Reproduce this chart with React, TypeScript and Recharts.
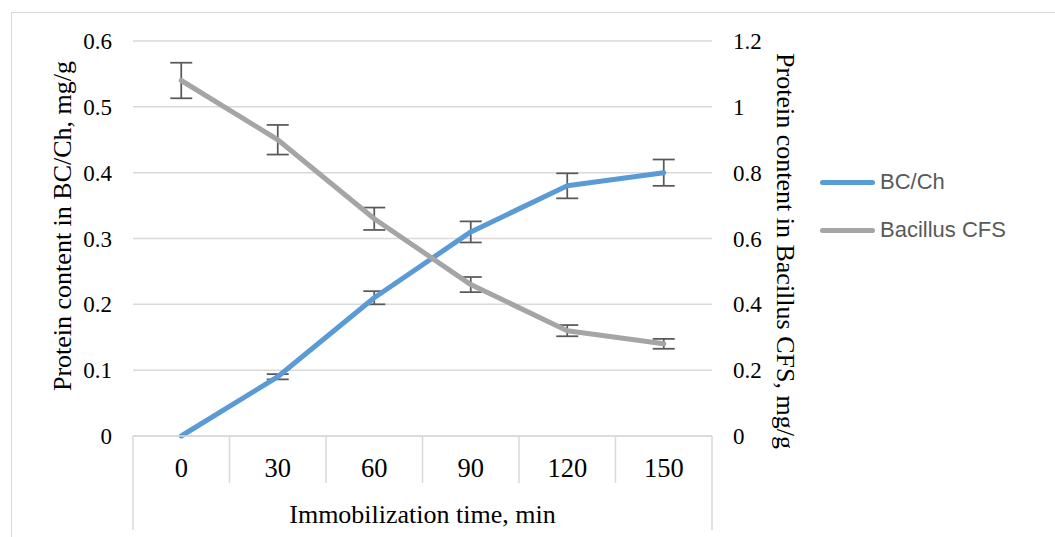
import { LineChart, Line, XAxis, YAxis, CartesianGrid, ErrorBar } from 'recharts';

// values
const times = ['0', '30', '60', '90', '120', '150'];
const bcCh = [0, 0.09, 0.21, 0.31, 0.38, 0.4];
const bcChErr = [0, 0.004, 0.01, 0.016, 0.019, 0.02];
const bacillus = [1.08, 0.9, 0.66, 0.46, 0.32, 0.28];
const bacillusErr = [0.054, 0.045, 0.034, 0.023, 0.017, 0.015];
const leftTicks = [0, 0.1, 0.2, 0.3, 0.4, 0.5, 0.6];
const rightTicks = [0, 0.2, 0.4, 0.6, 0.8, 1, 1.2];

const data = times.map((t, i) => ({
    t,
    bc: bcCh[i],
    bcErr: bcChErr[i],
    bac: bacillus[i],
    bacErr: bacillusErr[i],
}));

const W = 1055;
const H = 537;
const LEFT_W = 133;
const RIGHT_W = 60;
const MARGIN = { top: 41, right: 283, bottom: 0, left: 0 };
const X_H = 101;
const PLOT_W = W - MARGIN.left - MARGIN.right - LEFT_W - RIGHT_W;
const BAND = PLOT_W / times.length;

const SERIF = '"Liberation Serif", "Times New Roman", serif';
const GRID = '#D9D9D9';
const BLUE = '#5B9BD5';
const GREY = '#A5A5A5';

const CategoryTick = (props: any) => {
    const { x, y, payload, index } = props;
    const last = index === times.length - 1;
    return (
        <g>
            <text x={x} y={y + 41} textAnchor="middle" fontFamily={SERIF} fontSize={26.5} fill="#000">
                {payload.value}
            </text>
            {/* category separators like Excel */}
            <line x1={x - BAND / 2} x2={x - BAND / 2} y1={y} y2={index === 0 ? y + 94 : y + 47} stroke={GRID} strokeWidth={1.5} />
            {last && <line x1={x + BAND / 2} x2={x + BAND / 2} y1={y} y2={y + 94} stroke={GRID} strokeWidth={1.5} />}
        </g>
    );
};

const tickStyle = { fontFamily: SERIF, fontSize: 23, fill: '#000' };

export default function App() {
    return (
        <div style={{ position: 'absolute', left: 0, top: 0, width: W, height: H, overflow: 'hidden', background: '#fff' }}>
            {/* outer chart border */}
            <div style={{ position: 'absolute', left: 11, top: 12, width: W + 50, height: H + 50, border: `1.5px solid ${GRID}` }} />

            <div style={{ position: 'absolute', left: 0, top: 0 }}>
                <LineChart width={W} height={H} data={data} margin={MARGIN}>
                    <CartesianGrid vertical={false} stroke={GRID} strokeWidth={1.5} yAxisId="left" />
                    <XAxis
                        dataKey="t"
                        scale="band"
                        interval={0}
                        height={X_H}
                        tickLine={false}
                        tickSize={0}
                        tickMargin={0}
                        axisLine={{ stroke: GRID, strokeWidth: 1.5 }}
                        tick={<CategoryTick />}
                        label={{
                            content: () => (
                                <text x={MARGIN.left + LEFT_W + PLOT_W / 2} y={523} textAnchor="middle" fontFamily={SERIF} fontSize={26} fill="#000">
                                    Immobilization time, min
                                </text>
                            ),
                        }}
                    />
                    <YAxis
                        yAxisId="left"
                        width={LEFT_W}
                        domain={[0, 0.6]}
                        ticks={leftTicks}
                        axisLine={false}
                        tickLine={false}
                        tickSize={0}
                        tickMargin={21}
                        tick={tickStyle}
                        label={{
                            content: () => (
                                <text x={62} y={226} transform="rotate(-90 62 226)" textAnchor="middle" dominantBaseline="central" fontFamily={SERIF} fontSize={26} fill="#000">
                                    Protein content in BC/Ch, mg/g
                                </text>
                            ),
                        }}
                    />
                    <YAxis
                        yAxisId="right"
                        orientation="right"
                        width={RIGHT_W}
                        domain={[0, 1.2]}
                        ticks={rightTicks}
                        axisLine={false}
                        tickLine={false}
                        tickSize={0}
                        tickMargin={21}
                        tick={{ ...tickStyle, textAnchor: 'start' }}
                        label={{
                            content: () => (
                                <text x={785} y={251} transform="rotate(90 785 251)" textAnchor="middle" dominantBaseline="central" fontFamily={SERIF} fontSize={26} fill="#000">
                                    Protein content in Bacillus CFS, mg/g
                                </text>
                            ),
                        }}
                    />
                    <Line
                        yAxisId="left"
                        dataKey="bc"
                        name="BC/Ch"
                        type="linear"
                        stroke={BLUE}
                        strokeWidth={5}
                        strokeLinecap="round"
                        strokeLinejoin="round"
                        dot={false}
                        activeDot={false}
                        isAnimationActive={false}
                    >
                        <ErrorBar dataKey="bcErr" direction="y" width={11} stroke="#595959" strokeWidth={1.75} isAnimationActive={false} />
                    </Line>
                    <Line
                        yAxisId="right"
                        dataKey="bac"
                        name="Bacillus CFS"
                        type="linear"
                        stroke={GREY}
                        strokeWidth={5}
                        strokeLinecap="round"
                        strokeLinejoin="round"
                        dot={false}
                        activeDot={false}
                        isAnimationActive={false}
                    >
                        <ErrorBar dataKey="bacErr" direction="y" width={11} stroke="#595959" strokeWidth={1.75} isAnimationActive={false} />
                    </Line>
                </LineChart>
            </div>

            {/* legend */}
            <div style={{ position: 'absolute', left: 820, top: 166, fontFamily: '"Liberation Sans", Arial, sans-serif', fontSize: 22, color: '#595959' }}>
                {[
                    { name: 'BC/Ch', color: BLUE },
                    { name: 'Bacillus CFS', color: GREY },
                ].map((s) => (
                    <div key={s.name} style={{ display: 'flex', alignItems: 'center', height: 32, marginBottom: 16 }}>
                        <span style={{ display: 'inline-block', width: 55, height: 5, borderRadius: 3, background: s.color, marginRight: 5 }} />
                        <span>{s.name}</span>
                    </div>
                ))}
            </div>
        </div>
    );
}
